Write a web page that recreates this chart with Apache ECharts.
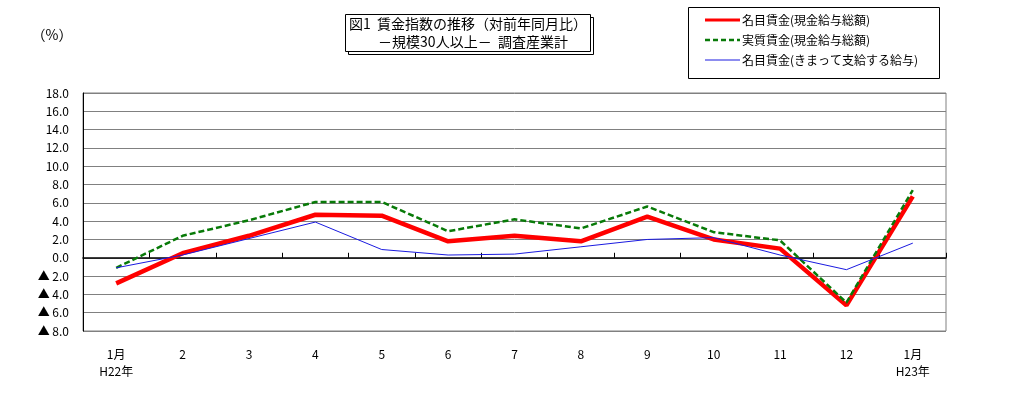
<!DOCTYPE html>
<html>
<head>
<meta charset="utf-8">
<script src="https://cdn.jsdelivr.net/npm/echarts@6/dist/echarts.min.js"></script>
<style>
html,body{margin:0;padding:0;background:#fff;}
#c{width:1023px;height:405px;}
</style>
</head>
<body>
<div id="c"></div>
<script>
const categories = ['1月\nH22年','2','3','4','5','6','7','8','9','10','11','12','1月\nH23年'];
const nominalTotal = [-2.8, 0.5, 2.4, 4.7, 4.6, 1.8, 2.4, 1.8, 4.5, 2.0, 1.0, -5.2, 6.7];
const realTotal    = [-1.1, 2.4, 4.1, 6.1, 6.1, 2.9, 4.2, 3.2, 5.6, 2.8, 1.9, -4.9, 7.4];
const nominalRegular = [-1.1, 0.3, 2.1, 3.9, 0.9, 0.3, 0.4, 1.2, 2.0, 2.2, 0.3, -1.3, 1.6];
const seriesNames = ['名目賃金(現金給与総額)','実質賃金(現金給与総額)','名目賃金(きまって支給する給与)'];
const seriesColors = ['#ff0000', '#087a08', '#1a1ae0'];
const yMin = -8, yMax = 18, yStep = 2;

const FONT = '"Noto Sans CJK JP", "Noto Sans", sans-serif';

// legend drawn as graphic (line sample + text)
const legendRows = [20, 40, 60];
const legendStyles = [
  {stroke: seriesColors[0], lineWidth: 3},
  {stroke: seriesColors[1], lineWidth: 2.5, lineDash: [5, 3]},
  {stroke: seriesColors[2], lineWidth: 1}
];
const legendGraphics = [];
seriesNames.forEach((n, i) => {
  legendGraphics.push({type: 'line', z: 2, shape: {x1: 705, y1: legendRows[i], x2: 740, y2: legendRows[i]}, style: legendStyles[i]});
  legendGraphics.push({type: 'text', z: 2, x: 742, y: legendRows[i], style: {text: n, font: '12px ' + FONT, fill: '#000', align: 'left', verticalAlign: 'middle'}});
});

const chart = echarts.init(document.getElementById('c'));
chart.setOption({
  animation: false,
  backgroundColor: '#fff',
  textStyle: {fontFamily: FONT},
  grid: {left: 83, right: 77, top: 93, bottom: 74, show: true, borderColor: '#808080', borderWidth: 1, containLabel: false},
  graphic: [
    {type: 'rect', z: 0, shape: {x: 688.5, y: 7.5, width: 251, height: 71}, style: {fill: '#fff', stroke: '#000', lineWidth: 1}},
    {type: 'rect', z: 0, shape: {x: 348.5, y: 17.5, width: 245, height: 37}, style: {fill: 'none', stroke: '#000', lineWidth: 1}},
    {type: 'rect', z: 1, shape: {x: 345.5, y: 14.5, width: 245, height: 37}, style: {fill: '#fff', stroke: '#000', lineWidth: 1}},
    {type: 'text', z: 2, x: 468, y: 24, style: {text: '図1  賃金指数の推移（対前年同月比）', font: '14px ' + FONT, fill: '#000', align: 'center', verticalAlign: 'middle'}},
    {type: 'text', z: 2, x: 473, y: 42, style: {text: '－規模30人以上－  調査産業計', font: '14px ' + FONT, fill: '#000', align: 'center', verticalAlign: 'middle'}},
    {type: 'text', z: 2, x: 52, y: 35, style: {text: '（%）', font: '14px ' + FONT, fill: '#000', align: 'center', verticalAlign: 'middle'}}
  ].concat(legendGraphics),
  xAxis: [
    {
      type: 'category', data: categories, position: 'bottom', boundaryGap: true,
      axisLine: {show: false, onZero: false}, axisTick: {show: false},
      axisLabel: {color: '#000', fontSize: 12, margin: 15, lineHeight: 17, fontFamily: FONT},
      splitLine: {show: false}
    },
    {
      type: 'category', data: categories, position: 'top', boundaryGap: true,
      axisLine: {show: true, onZero: true, onZeroAxisIndex: 0, lineStyle: {color: '#000', width: 1.5}},
      axisTick: {show: true, inside: false, length: 5, lineStyle: {color: '#000'}},
      axisLabel: {show: false}, splitLine: {show: false}
    }
  ],
  yAxis: {
    type: 'value', min: yMin, max: yMax, interval: yStep,
    axisLine: {show: true, lineStyle: {color: '#000', width: 1}},
    axisTick: {show: false},
    splitLine: {show: true, lineStyle: {color: '#808080', width: 1}},
    axisLabel: {
      color: '#000', fontSize: 12, margin: 14, fontFamily: FONT,
      formatter: v => v < 0 ? '▲ ' + Math.abs(v).toFixed(1) : v.toFixed(1)
    }
  },
  series: [
    {name: seriesNames[0], type: 'line', data: nominalTotal, symbol: 'none', xAxisIndex: 0,
     lineStyle: {color: seriesColors[0], width: 4.5}, itemStyle: {color: seriesColors[0]}, z: 3},
    {name: seriesNames[1], type: 'line', data: realTotal, symbol: 'none', xAxisIndex: 0,
     lineStyle: {color: seriesColors[1], width: 2.5, type: [6, 3]}, itemStyle: {color: seriesColors[1]}, z: 4},
    {name: seriesNames[2], type: 'line', data: nominalRegular, symbol: 'none', xAxisIndex: 0,
     lineStyle: {color: seriesColors[2], width: 1}, itemStyle: {color: seriesColors[2]}, z: 5}
  ]
});
</script>
</body>
</html>
